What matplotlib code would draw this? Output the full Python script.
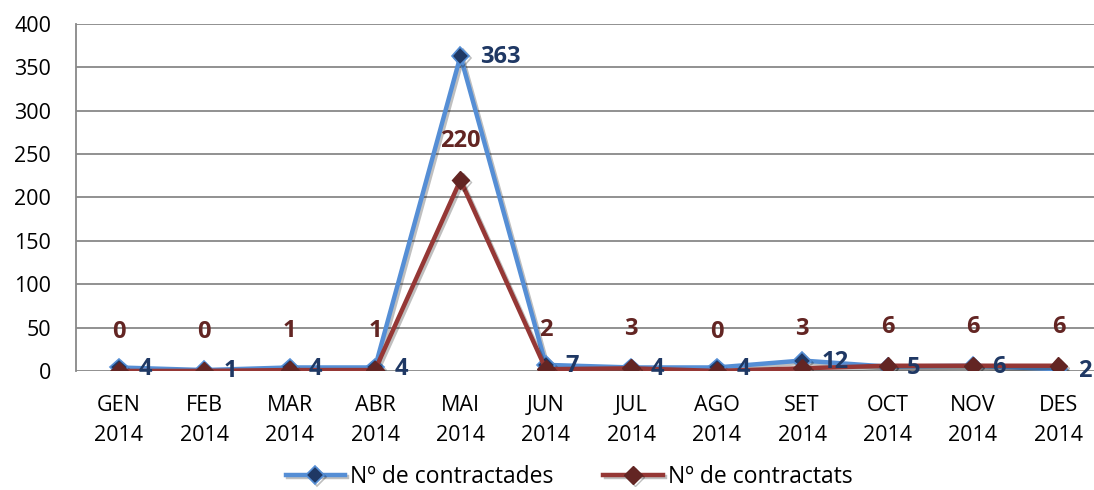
import matplotlib.pyplot as plt
import matplotlib.patheffects as pe
import numpy as np

months = ['GEN\n2014', 'FEB\n2014', 'MAR\n2014', 'ABR\n2014', 'MAI\n2014', 'JUN\n2014',
          'JUL\n2014', 'AGO\n2014', 'SET\n2014', 'OCT\n2014', 'NOV\n2014', 'DES\n2014']
contractades = [4, 1, 4, 4, 363, 7, 4, 4, 12, 5, 6, 2]
contractats = [0, 0, 1, 1, 220, 2, 3, 0, 3, 6, 6, 6]

plt.rcParams['font.family'] = ['Open Sans', 'DejaVu Sans']

fig = plt.figure(figsize=(10.94, 4.9), dpi=100)
ax = fig.add_axes([0.0695, 0.243, 0.937, 0.708])

x = np.arange(len(months))
shadow = [pe.SimpleLineShadow(offset=(1.5, -1.5), alpha=0.25), pe.Normal()]

ax.plot(x, contractades, color='#558ED5', lw=3.2, marker='D', markersize=9,
        markerfacecolor='#1F3864', markeredgecolor='#558ED5', markeredgewidth=1.2,
        label='Nº de contractades', zorder=3, path_effects=shadow)
ax.plot(x, contractats, color='#953735', lw=3.2, marker='D', markersize=9,
        markerfacecolor='#632523', markeredgecolor='#632523',
        label='Nº de contractats', zorder=4, path_effects=shadow)

# data labels
for xi, v in zip(x, contractades):
    ax.annotate(str(v), (xi, v), xytext=(14, -1), textcoords='offset points',
                ha='left', va='center', fontsize=17, fontweight='bold', color='#1F3864',
                zorder=5, annotation_clip=False)
for xi, v in zip(x, contractats):
    ax.annotate(str(v), (xi, v), xytext=(0, 28), textcoords='offset points',
                ha='center', va='center', fontsize=17, fontweight='bold', color='#632523', zorder=5)

ax.set_xlim(-0.5, 11.5)
ax.set_ylim(0, 400)
ax.set_yticks(range(0, 401, 50))
ax.set_xticks(x)
ax.set_xticklabels(months, fontsize=15.5, linespacing=1.6)
ax.tick_params(axis='y', labelsize=15.5, length=0, pad=18)
ax.tick_params(axis='x', length=0, pad=17)

ax.grid(axis='y', color='#888888', lw=1.3)
ax.set_axisbelow(True)
for s in ['top', 'right', 'bottom']:
    ax.spines[s].set_visible(False)
ax.spines['left'].set_color('#888888')
ax.spines['left'].set_linewidth(1.3)

fig.legend(loc='lower center', bbox_to_anchor=(0.52, -0.04), ncol=2, frameon=False,
           fontsize=16.5, handlelength=2.6, columnspacing=2.2, handletextpad=0.2)

fig.savefig('out.png', dpi=100)
